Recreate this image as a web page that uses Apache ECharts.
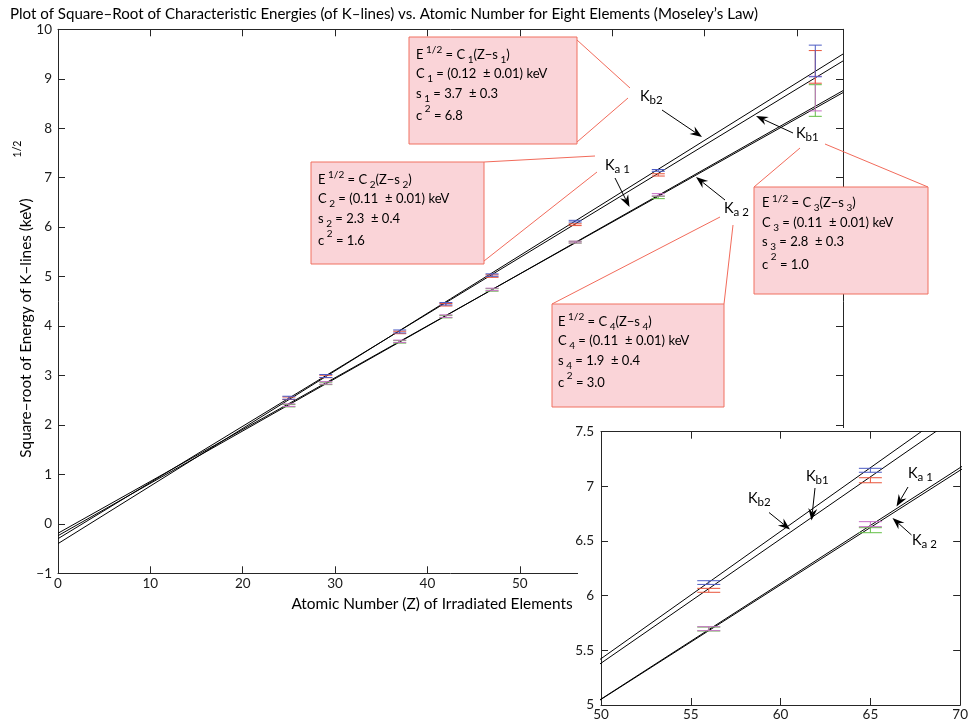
<!DOCTYPE html>
<html><head><meta charset="utf-8">
<script src="https://cdn.jsdelivr.net/npm/echarts@6/dist/echarts.min.js"></script>
<style>html,body{margin:0;padding:0;background:#fff}#c{width:971px;height:727px}</style>
</head><body><div id="c"></div>
<script>
// ---------- data ----------
const atomicNumbers = [25, 29, 37, 42, 47, 56, 65, 82];
const kb2Values = [2.55, 2.99, 3.89, 4.45, 5.03, 6.12, 7.147, 9.36];
const kb2Errors = [0.03, 0.03, 0.03, 0.025, 0.025, 0.017, 0.018, 0.32];
const kb1Values = [2.54, 2.98, 3.87, 4.43, 5.01, 6.049, 7.056, 9.24];
const kb1Errors = [0.025, 0.025, 0.025, 0.025, 0.025, 0.018, 0.023, 0.33];
const ka1Values = [2.40, 2.85, 3.69, 4.20, 4.74, 5.698, 6.654, 8.70];
const ka1Errors = [0.025, 0.025, 0.025, 0.025, 0.025, 0.018, 0.023, 0.35];
const ka2Values = [2.39, 2.84, 3.68, 4.19, 4.73, 5.695, 6.599, 8.56];
const ka2Errors = [0.025, 0.025, 0.025, 0.025, 0.025, 0.018, 0.023, 0.32];

// fitted lines, value read at Z = 0 and Z = 85
const fitZ = [0, 85];
const kb2Fit = [-0.40, 9.50];
const kb1Fit = [-0.30, 9.36];
const ka1Fit = [-0.24, 8.76];
const ka2Fit = [-0.19, 8.72];

// fit parameters shown in the boxes
const fitIndex = ['1', '2', '3', '4'];
const fitC = ['0.12', '0.11', '0.11', '0.11'];
const fitCErr = ['0.01', '0.01', '0.01', '0.01'];
const fitS = ['3.7', '2.3', '2.8', '1.9'];
const fitSErr = ['0.3', '0.4', '0.3', '0.4'];
const fitChi2 = ['6.8', '1.6', '1.0', '3.0'];

const titleText = "Plot of Square\u2013Root of Characteristic Energies (of K\u2013lines) vs. Atomic Number for Eight Elements (Moseley\u2019s Law)";
const xLabelText = "Atomic Number (Z) of Irradiated Elements";
const yLabelText = "Square\u2013root of Energy of K\u2013lines (keV)";

// ---------- styles ----------
const FONT = 'Lato';
const AX = '#262626';
const C_BLUE = '#4b5bc4', C_RED = '#e8533a', C_MAG = '#c66cc5', C_GREEN = '#62bf45';
const PINK = '#fad4d8', PINK_EDGE = '#f07060', CALLOUT = '#f26b5b';

const chart = echarts.init(document.getElementById('c'));

function errorBars(name, values, errors, color, axisIdx, capHalf, z) {
  return {
    type: 'custom', name, xAxisIndex: axisIdx, yAxisIndex: axisIdx, z, clip: true,
    data: atomicNumbers.map((zv, i) => [zv, values[i] - errors[i], values[i] + errors[i]]),
    encode: { x: 0, y: [1, 2] },
    renderItem(params, api) {
      const x = api.value(0);
      const lo = api.coord([x, api.value(1)]);
      const hi = api.coord([x, api.value(2)]);
      const style = { stroke: color, lineWidth: 1 };
      return { type: 'group', children: [
        { type: 'line', shape: { x1: lo[0], y1: lo[1], x2: hi[0], y2: hi[1] }, style },
        { type: 'line', shape: { x1: lo[0] - capHalf, y1: lo[1], x2: lo[0] + capHalf, y2: lo[1] }, style },
        { type: 'line', shape: { x1: hi[0] - capHalf, y1: hi[1], x2: hi[0] + capHalf, y2: hi[1] }, style }
      ]};
    }
  };
}
function fitLine(name, vals, axisIdx, z) {
  return {
    type: 'line', name, xAxisIndex: axisIdx, yAxisIndex: axisIdx, z, clip: true,
    data: fitZ.map((zv, i) => [zv, vals[i]]), symbol: 'none', silent: true,
    lineStyle: { color: '#000', width: 1 }, animation: false
  };
}
function axisPair(gridIndex, min, max, interval, isX, z, fontSize, margin) {
  const base = {
    gridIndex, type: 'value', min, max, interval, z,
    axisLine: { show: true, onZero: false, lineStyle: { color: AX, width: 1 } },
    axisTick: { show: true, inside: true, length: 7, lineStyle: { color: AX } },
    splitLine: { show: false }
  };
  const a = Object.assign({}, base, {
    position: isX ? 'bottom' : 'left',
    axisLabel: { show: true, color: '#1a1a1a', fontFamily: FONT, fontSize, margin,
      formatter: v => String(v).replace('-', '\u2212') }
  });
  const b = Object.assign({}, base, { position: isX ? 'top' : 'right', axisLabel: { show: false } });
  return [a, b];
}

const mainX = axisPair(0, 0, 85, 10, true, 1, 13.5, 3);
const mainY = axisPair(0, -1, 10, 1, false, 1, 13.5, 6);
const insX = axisPair(1, 50, 70, 5, true, 60, 13.5, 3);
const insY = axisPair(1, 5, 7.5, 0.5, false, 60, 13.5, 7);

// ---------- annotations (layout in pixels) ----------
const g = [];
function arrow(x1, y1, x2, y2, z) {
  const dx = x2 - x1, dy = y2 - y1, len = Math.hypot(dx, dy), ux = dx / len, uy = dy / len, px = -uy, py = ux;
  const L = 12, W = 4.5, N = 8;
  const bx = x2 - ux * L, by = y2 - uy * L, nx = x2 - ux * N, ny = y2 - uy * N;
  g.push({ type: 'line', z, shape: { x1, y1, x2: nx, y2: ny }, style: { stroke: '#000', lineWidth: 1 } });
  g.push({ type: 'polygon', z, shape: { points: [[x2, y2], [bx + px * W, by + py * W], [nx, ny], [bx - px * W, by - py * W]] }, style: { fill: '#000' } });
}
function callout(x1, y1, x2, y2, z) {
  g.push({ type: 'line', z, shape: { x1, y1, x2, y2 }, style: { stroke: CALLOUT, lineWidth: 1 } });
}
function kLabel(x, yc, sub, z) {
  g.push({ type: 'text', z, x, y: yc - 10, style: {
    text: '{k|K}{s|' + sub + '}', fontFamily: FONT, verticalAlign: 'top', align: 'left',
    rich: { k: { fontSize: 14.5, lineHeight: 20, fontFamily: FONT, fill: '#000' },
            s: { fontSize: 11.5, lineHeight: 6, verticalAlign: 'bottom', fontFamily: FONT, fill: '#000' } }
  }});
}
function fitBox(i, rx, ry, rw, rh, tx, ty) {
  g.push({ type: 'rect', z: 20, shape: { x: rx, y: ry, width: rw, height: rh },
    style: { fill: PINK, stroke: PINK_EDGE, lineWidth: 1 } });
  const n = fitIndex[i];
  const txt =
    '{n|E}{sup| 1/2}{n| = C}{sub| ' + n + '}{n|(Z\u2212s}{sub| ' + n + '}{n|)}\n' +
    '{n|C}{sub| ' + n + '}{n| = (' + fitC[i] + '  \u00b1 ' + fitCErr[i] + ') keV}\n' +
    '{n|s}{sub| ' + n + '}{n| = ' + fitS[i] + '  \u00b1 ' + fitSErr[i] + '}\n' +
    '{n4|c}{sup4| 2}{n4| = ' + fitChi2[i] + '}';
  g.push({ type: 'text', z: 21, x: tx, y: ty, style: {
    text: txt, fontFamily: FONT, verticalAlign: 'top', align: 'left',
    rich: {
      n: { fontSize: 13, lineHeight: 19.5, fontFamily: FONT, fill: '#000' },
      n4: { fontSize: 13, lineHeight: 25, fontFamily: FONT, fill: '#000' },
      sub: { fontSize: 10, lineHeight: 6, verticalAlign: 'bottom', fontFamily: FONT, fill: '#000' },
      sup: { fontSize: 10, lineHeight: 11, verticalAlign: 'top', fontFamily: FONT, fill: '#000' },
      sup4: { fontSize: 10, lineHeight: 17, verticalAlign: 'top', fontFamily: FONT, fill: '#000' }
    }
  }});
}

// title and axis names
g.push({ type: 'text', z: 30, x: 10, y: 14, style: { text: titleText, fontFamily: FONT, fontSize: 15.1, fill: '#000', verticalAlign: 'middle', align: 'left' } });
g.push({ type: 'text', z: 30, x: 432, y: 604, style: { text: xLabelText, fontFamily: FONT, fontSize: 15.4, fill: '#000', verticalAlign: 'middle', align: 'center' } });
g.push({ type: 'text', z: 30, x: 26, y: 328, rotation: Math.PI / 2, style: { text: yLabelText, fontFamily: FONT, fontSize: 15.3, fill: '#000', verticalAlign: 'middle', align: 'center' } });
g.push({ type: 'text', z: 30, x: 18, y: 149, rotation: Math.PI / 2, style: { text: '1/2', fontFamily: FONT, fontSize: 10.5, fill: '#000', verticalAlign: 'middle', align: 'center' } });

// fit boxes with callouts (main plot)
callout(577, 40, 630, 88, 19); callout(577, 142, 628, 98, 19);
fitBox(0, 409, 37, 168, 107, 416, 45);
callout(484, 162, 595, 156, 19); callout(484, 261, 597, 172, 19);
fitBox(1, 311, 162, 173, 102, 318, 170);
callout(754, 187, 800, 148, 19); callout(928, 187, 825, 144, 19);
fitBox(2, 754, 187, 174, 107, 762, 193.5);
callout(552, 304, 720, 217, 19); callout(724, 304, 733, 225, 19);
fitBox(3, 552, 304, 172, 103, 558, 312);

kLabel(640, 96, 'b2', 25); arrow(662, 110, 702, 137, 25);
kLabel(605, 165, 'a 1', 25); arrow(615, 178, 629.5, 207, 25);
kLabel(796, 133, 'b1', 25); arrow(793, 133, 756, 116, 25);
kLabel(724, 208, 'a 2', 25); arrow(725, 200, 696, 177, 25);

// white cover for the inset
g.push({ type: 'rect', z: 50, shape: { x: 578, y: 428, width: 400, height: 310 }, style: { fill: '#fff' } });

// inset labels
kLabel(748, 498, 'b2', 80); arrow(769, 512.5, 790, 529.5, 80);
kLabel(806, 476, 'b1', 80); arrow(815, 488, 811.5, 520.5, 80);
kLabel(908, 473, 'a 1', 80); arrow(908, 487, 896.5, 506.5, 80);
kLabel(912, 540, 'a 2', 80); arrow(911.5, 535, 892.5, 518, 80);

chart.setOption({
  animation: false,
  backgroundColor: '#fff',
  grid: [
    { left: 58, top: 29.3, width: 785, height: 544, show: false },
    { left: 601, top: 431.7, width: 365, height: 273.3, show: false, z: 60 }
  ],
  xAxis: [mainX[0], mainX[1], insX[0], insX[1]],
  yAxis: [mainY[0], mainY[1], insY[0], insY[1]],
  series: [
    fitLine('Kb2 fit', kb2Fit, 0, 3), fitLine('Kb1 fit', kb1Fit, 0, 3),
    fitLine('Ka1 fit', ka1Fit, 0, 3), fitLine('Ka2 fit', ka2Fit, 0, 3),
    errorBars('Ka2', ka2Values, ka2Errors, C_GREEN, 0, 6.5, 4),
    errorBars('Ka1', ka1Values, ka1Errors, C_MAG, 0, 6.5, 5),
    errorBars('Kb1', kb1Values, kb1Errors, C_RED, 0, 6.5, 6),
    errorBars('Kb2', kb2Values, kb2Errors, C_BLUE, 0, 6.5, 7),
    fitLine('Kb2 fit', kb2Fit, 2, 61), fitLine('Kb1 fit', kb1Fit, 2, 61),
    fitLine('Ka1 fit', ka1Fit, 2, 61), fitLine('Ka2 fit', ka2Fit, 2, 61),
    errorBars('Ka2', ka2Values, ka2Errors, C_GREEN, 2, 11.5, 62),
    errorBars('Ka1', ka1Values, ka1Errors, C_MAG, 2, 11.5, 63),
    errorBars('Kb1', kb1Values, kb1Errors, C_RED, 2, 11.5, 64),
    errorBars('Kb2', kb2Values, kb2Errors, C_BLUE, 2, 11.5, 65)
  ],
  graphic: { elements: g }
});
</script></body></html>
